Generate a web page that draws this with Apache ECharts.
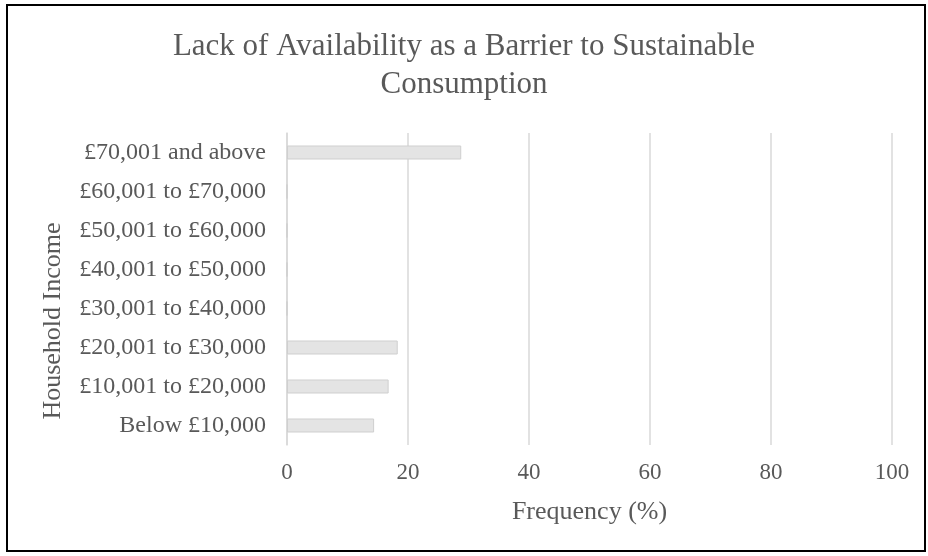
<!DOCTYPE html>
<html><head><meta charset="utf-8">
<script src="https://cdn.jsdelivr.net/npm/echarts@6/dist/echarts.min.js"></script>
<style>html,body{margin:0;padding:0;background:#fff}#c{width:928px;height:556px}</style>
</head><body><div id="c"></div>
<script>
const categories = ["Below £10,000","£10,001 to £20,000","£20,001 to £30,000","£30,001 to £40,000","£40,001 to £50,000","£50,001 to £60,000","£60,001 to £70,000","£70,001 and above"];
const frequency = [14.4, 16.8, 18.3, 0, 0, 0, 0, 28.8];
const xTicks = [0, 20, 40, 60, 80, 100];
const titleText = "Lack of Availability as a Barrier to Sustainable\nConsumption";
const yTitle = "Household Income";
const xTitle = "Frequency (%)";
const font = "Liberation Serif";
const grey = "#595959";
const chart = echarts.init(document.getElementById('c'));
chart.setOption({
  animation: false,
  backgroundColor: '#fff',
  title: {text: titleText, left: 'center', top: 23,
    textStyle: {fontFamily: font, fontSize: 31, fontWeight: 'normal', color: grey, lineHeight: 38}},
  graphic: [
    {type: 'rect', shape: {x: 7, y: 5, width: 918, height: 546}, style: {fill: 'none', stroke: '#000', lineWidth: 2}, silent: true},
    {type: 'text', x: 53, y: 321, rotation: Math.PI / 2,
      style: {text: yTitle, fontFamily: font, fontSize: 26, fill: grey, align: 'center', verticalAlign: 'middle'}, silent: true}
  ],
  grid: {left: 287, right: 36, top: 133, bottom: 111, containLabel: false},
  xAxis: {type: 'value', min: xTicks[0], max: xTicks[xTicks.length-1], interval: 20,
    name: xTitle, nameLocation: 'middle', nameGap: 54,
    nameTextStyle: {fontFamily: font, fontSize: 26, color: grey},
    axisLine: {show: false}, axisTick: {show: false},
    axisLabel: {fontFamily: font, fontSize: 23, color: grey, margin: 16},
    splitLine: {show: true, lineStyle: {color: '#d9d9d9', width: 1.5}}},
  yAxis: {type: 'category', data: categories,
    axisLine: {show: true, lineStyle: {color: '#d9d9d9', width: 1.5}}, axisTick: {show: false},
    axisLabel: {fontFamily: font, fontSize: 24, color: grey, margin: 21}},
  series: [{type: 'bar', data: frequency, barWidth: 14,
    itemStyle: {color: '#e4e4e4', borderColor: '#cfcfcf', borderWidth: 1}}]
});
</script></body></html>
